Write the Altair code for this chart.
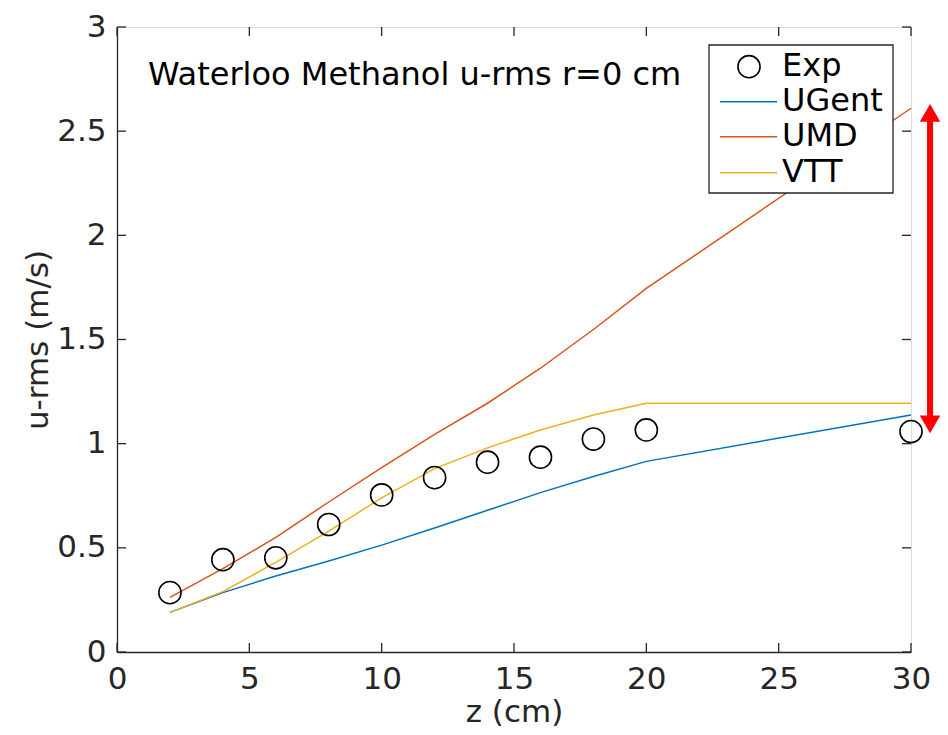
import altair as alt
import pandas as pd

# ---- data ----
z_cm = [2, 4, 6, 8, 10, 12, 14, 16, 18, 20, 30]
exp_vals = [0.285, 0.443, 0.452, 0.612, 0.754, 0.837, 0.911, 0.935, 1.022, 1.066, 1.058]
ugent_vals = [0.19, 0.285, 0.365, 0.437, 0.513, 0.595, 0.68, 0.765, 0.842, 0.915, 1.138]
umd_vals = [0.262, 0.40, 0.55, 0.72, 0.885, 1.045, 1.194, 1.362, 1.548, 1.745, 2.61]
vtt_vals = [0.19, 0.29, 0.43, 0.58, 0.74, 0.88, 0.98, 1.066, 1.138, 1.194, 1.194]

series_names = ["Exp", "UGent", "UMD", "VTT"]
series_colors = ["#000000", "#0072BD", "#D95319", "#EDB120"]

x_ticks = [0, 5, 10, 15, 20, 25, 30]
y_ticks = [0, 0.5, 1, 1.5, 2, 2.5, 3]

arrow_z = [30.72]
arrow_lo = [1.05]
arrow_hi = [2.63]

title_text = "Waterloo Methanol u-rms r=0 cm"
x_title = "z (cm)"
y_title = "u-rms (m/s)"

# ---- styling ----
W, H = 794, 625
FONT = "DejaVu Sans"
AX = "#262626"
TICK = 9

x_scale = alt.Scale(domain=[0, 30], nice=False, zero=False)
y_scale = alt.Scale(domain=[0, 3], nice=False, zero=False)

lines_df = pd.DataFrame({
    "z": z_cm * 3,
    "u": ugent_vals + umd_vals + vtt_vals,
    "series": ["UGent"] * len(z_cm) + ["UMD"] * len(z_cm) + ["VTT"] * len(z_cm),
})
exp_df = pd.DataFrame({"z": z_cm, "u": exp_vals})
xt_df = pd.DataFrame({"z": x_ticks})
yt_df = pd.DataFrame({"u": y_ticks})
arrow_df = pd.DataFrame({"z": arrow_z, "u": arrow_lo, "u2": arrow_hi})
arrow_top_df = pd.DataFrame({"z": arrow_z, "u": arrow_hi})
arrow_bot_df = pd.DataFrame({"z": arrow_z, "u": arrow_lo})
one = pd.DataFrame({"k": [0]})

x_axis = alt.Axis(
    values=x_ticks, ticks=False, grid=False, domainColor=AX, domainWidth=1.3,
    labelFont=FONT, labelFontSize=31, labelColor=AX, labelPadding=12, labelFlush=False,
    title=x_title, titleFont=FONT, titleFontSize=31, titleFontWeight="normal",
    titleColor=AX, titleX=W / 2, titleY=69, titleBaseline="alphabetic", titleAlign="center",
)
y_axis = alt.Axis(
    values=y_ticks, format="~g", ticks=False, grid=False, domainColor=AX, domainWidth=1.3,
    labelFont=FONT, labelFontSize=31, labelColor=AX, labelPadding=11, labelFlush=False,
    title=y_title, titleFont=FONT, titleFontSize=31, titleFontWeight="normal",
    titleColor=AX, titleX=-79, titleY=H / 2, titleAngle=-90, titleBaseline="middle",
    titleAlign="center",
)

lines = alt.Chart(lines_df).mark_line(strokeWidth=1.5).encode(
    x=alt.X("z:Q", scale=x_scale, axis=x_axis),
    y=alt.Y("u:Q", scale=y_scale, axis=y_axis),
    color=alt.Color("series:N", scale=alt.Scale(domain=series_names, range=series_colors), legend=None),
    detail="series:N",
)

points = alt.Chart(exp_df).mark_point(
    shape="circle", filled=False, size=490, stroke="black", strokeWidth=1.6, opacity=1
).encode(x=alt.X("z:Q", scale=x_scale), y=alt.Y("u:Q", scale=y_scale))

xt_bottom = alt.Chart(xt_df).mark_rule(color=AX, strokeWidth=1.3).encode(
    x=alt.X("z:Q", scale=x_scale), y=alt.value(H), y2=alt.value(H - TICK))
xt_top = alt.Chart(xt_df).mark_rule(color=AX, strokeWidth=1.3).encode(
    x=alt.X("z:Q", scale=x_scale), y=alt.value(0), y2=alt.value(TICK))
yt_left = alt.Chart(yt_df).mark_rule(color=AX, strokeWidth=1.3).encode(
    y=alt.Y("u:Q", scale=y_scale), x=alt.value(0), x2=alt.value(TICK))
yt_right = alt.Chart(yt_df).mark_rule(color=AX, strokeWidth=1.3).encode(
    y=alt.Y("u:Q", scale=y_scale), x=alt.value(W), x2=alt.value(W - TICK))

title_mark = alt.Chart(one).mark_text(
    align="left", baseline="alphabetic", font=FONT, fontSize=32, color="black"
).encode(x=alt.value(31), y=alt.value(58), text=alt.value(title_text))

# legend box
leg_box = alt.Chart(one).mark_rect(fill="white", stroke=AX, strokeWidth=1.3).encode(
    x=alt.value(592), x2=alt.value(776), y=alt.value(18), y2=alt.value(166))
legend_layers = [leg_box]
row_y = [39.7, 74.7, 109.7, 145.7]
for i, (name, col) in enumerate(zip(series_names, series_colors)):
    if name == "Exp":
        legend_layers.append(alt.Chart(one).mark_point(
            shape="circle", filled=False, size=490, stroke="black", strokeWidth=1.6, opacity=1
        ).encode(x=alt.value(632), y=alt.value(row_y[i])))
    else:
        legend_layers.append(alt.Chart(one).mark_rule(color=col, strokeWidth=1.5).encode(
            x=alt.value(603), x2=alt.value(660), y=alt.value(row_y[i])))
    legend_layers.append(alt.Chart(one).mark_text(
        align="left", baseline="middle", font=FONT, fontSize=32, color="black"
    ).encode(x=alt.value(665), y=alt.value(row_y[i] - 1), text=alt.value(name)))

# red double arrow
arrow_shaft = alt.Chart(arrow_df).mark_rule(color="#FF0000", strokeWidth=6, yOffset=-12, y2Offset=12).encode(
    x=alt.X("z:Q", scale=x_scale), y=alt.Y("u:Q", scale=y_scale), y2="u2:Q")
arrow_top = alt.Chart(arrow_top_df).mark_point(
    shape="triangle-up", filled=True, fill="#FF0000", size=420, opacity=1, strokeWidth=0, yOffset=8.9
).encode(x=alt.X("z:Q", scale=x_scale), y=alt.Y("u:Q", scale=y_scale))
arrow_bot = alt.Chart(arrow_bot_df).mark_point(
    shape="triangle-down", filled=True, fill="#FF0000", size=420, opacity=1, strokeWidth=0, yOffset=-8.9
).encode(x=alt.X("z:Q", scale=x_scale), y=alt.Y("u:Q", scale=y_scale))

chart = alt.layer(
    lines, points, xt_bottom, xt_top, yt_left, yt_right, title_mark,
    *legend_layers, arrow_shaft, arrow_top, arrow_bot,
).properties(
    width=W, height=H,
    autosize=alt.AutoSizeParams(type="none"),
    padding={"left": 109, "top": 19, "right": 29, "bottom": 75},
).configure_view(stroke=AX, strokeWidth=1.3).configure(background="white")

chart.save("out.html", embed_options={"renderer": "svg", "actions": False})
